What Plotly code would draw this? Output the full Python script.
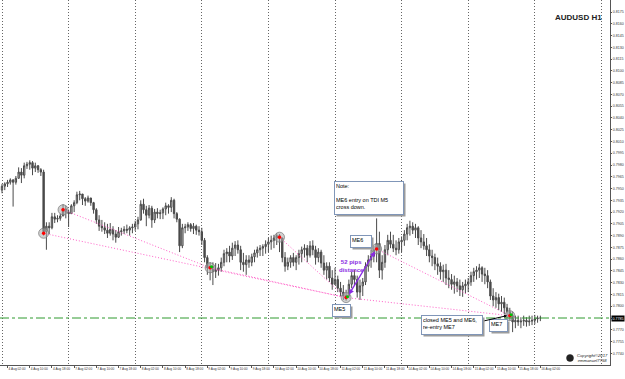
import plotly.graph_objects as go

# ---------------- data (AUDUSD H1, prices in pips of 0.0001) ----------------
PIP = 0.0001
first_open_pips = 7948
close_pips = [
    7953,7956,7958,7961,7958,7963,7971,7967,7979,7981,7983,7976,7979,7974,7971,7895,7902,7900,7914,7911,7912,7915,7924,7920,
    7918,7928,7932,7942,7943,7937,7934,7938,7932,7923,7910,7902,7900,7897,7893,7898,7892,7888,7895,7896,7898,7897,7900,7901,
    7905,7910,7930,7923,7916,7925,7910,7920,7918,7919,7924,7928,7926,7935,7918,7911,7877,7900,7901,7904,7899,7902,7897,7895,
    7884,7862,7849,7851,7844,7846,7849,7856,7867,7869,7864,7874,7878,7872,7856,7853,7859,7856,7863,7868,7872,7874,7876,7879,
    7882,7884,7887,7890,7887,7862,7851,7856,7862,7856,7862,7867,7872,7874,7865,7877,7872,7862,7869,7855,7846,7851,7836,7828,
    7834,7823,7818,7813,7813,7828,7839,7834,7818,7826,7831,7851,7859,7864,7872,7880,7846,7856,7872,7884,7879,7874,7872,7882,
    7884,7892,7900,7902,7897,7900,7887,7882,7877,7872,7864,7862,7854,7851,7844,7846,7836,7834,7828,7831,7826,7821,7826,7828,
    7831,7839,7844,7846,7849,7841,7839,7831,7813,7808,7811,7803,7805,7798,7793,7788,7780,7782,7780,7781,7782,7780,7781,7782,
    7784,7785,7785]
high_pips = [
    7956,7958,7961,7963,7962,7966,7977,7976,7983,7984,7986,7985,7983,7980,7976,7974,7907,7907,7919,7919,7916,7918,7930,7928,
    7923,7930,7935,7946,7947,7943,7939,7941,7938,7933,7925,7916,7910,7907,7905,7906,7902,7897,7901,7900,7902,7904,7902,7905,
    7909,7914,7935,7937,7928,7929,7928,7924,7925,7923,7926,7932,7930,7939,7937,7920,7912,7905,7905,7907,7906,7906,7904,7902,
    7900,7887,7865,7856,7856,7855,7854,7862,7872,7874,7877,7881,7883,7884,7877,7868,7865,7865,7867,7872,7876,7878,7879,7884,
    7887,7890,7891,7893,7892,7887,7869,7862,7865,7868,7865,7872,7876,7879,7878,7883,7884,7877,7874,7872,7865,7856,7856,7846,
    7849,7839,7831,7827,7821,7834,7844,7846,7839,7834,7836,7856,7865,7872,7877,7912,7895,7865,7878,7891,7895,7891,7884,7887,
    7889,7897,7905,7909,7907,7905,7902,7897,7892,7887,7879,7872,7867,7862,7856,7853,7854,7846,7841,7839,7836,7834,7831,7834,
    7836,7844,7849,7851,7854,7851,7849,7846,7834,7823,7818,7816,7813,7811,7803,7798,7793,7788,7788,7786,7788,7786,7788,7788,
    7789,7788,7788]
low_pips = [
    7944,7948,7952,7955,7927,7955,7963,7957,7963,7975,7974,7967,7971,7970,7966,7890,7872,7892,7898,7906,7907,7909,7915,7912,
    7901,7918,7920,7930,7935,7929,7928,7932,7928,7918,7905,7896,7895,7892,7887,7890,7884,7881,7887,7890,7892,7893,7890,7893,
    7896,7898,7909,7918,7902,7912,7900,7906,7912,7911,7911,7916,7918,7920,7912,7907,7869,7874,7893,7896,7895,7892,7891,7890,
    7878,7856,7840,7833,7827,7836,7839,7844,7851,7856,7856,7859,7864,7867,7846,7844,7840,7849,7851,7856,7862,7864,7864,7867,
    7869,7872,7874,7878,7869,7856,7844,7846,7849,7851,7846,7853,7856,7862,7856,7862,7865,7853,7856,7849,7840,7834,7831,7821,
    7827,7818,7813,7808,7807,7811,7823,7827,7811,7808,7813,7827,7844,7849,7856,7856,7836,7834,7849,7865,7874,7869,7865,7867,
    7869,7877,7884,7890,7892,7887,7878,7874,7872,7864,7856,7851,7846,7840,7834,7831,7827,7823,7821,7816,7818,7813,7812,7816,
    7818,7826,7831,7834,7836,7831,7828,7823,7808,7800,7798,7795,7793,7790,7785,7782,7767,7772,7775,7772,7775,7774,7775,7776,
    7777,7779,7781]

day_names = ['4 Aug', '7 Aug', '8 Aug', '9 Aug', '10 Aug', '11 Aug', '14 Aug', '15 Aug', '16 Aug']
label_hours = [2, 10, 18]
BARS_PER_DAY = 24

# trade marks: bar index, price
mark_bars = [15, 22, 75, 100, 124, 135, 183]
mark_prices = [0.7893, 0.7923, 0.7849, 0.7888, 0.7811, 0.7873, 0.7788]
mark_green = [False, False, True, False, True, False, True]

# pink dotted trend lines between marks (pairs of mark numbers)
trend_pairs = [(0, 4), (1, 2), (2, 4), (3, 4), (5, 6), (4, 6)]

current_price = 0.7785
y_top, y_bottom = 0.81903, 0.77251
label_top, label_step = 0.8175, 0.0015

# ---------------- build ----------------
closes = [c * PIP for c in close_pips]
highs = [h * PIP for h in high_pips]
lows = [l * PIP for l in low_pips]
opens = [first_open_pips * PIP] + closes[:-1]   # each hourly bar opens at the previous close
bars = list(range(len(closes)))

tickvals, ticktext = [], []
for d, name in enumerate(day_names):
    for h in label_hours:
        idx = d * BARS_PER_DAY + h
        if idx <= bars[-1]:
            tickvals.append(idx)
            ticktext.append(f"{name} {h:02d}:00")

# price ticks (the one under the live price tag is left blank, the tag shows it)
ytickvals, yticktext = [], []
v = label_top
while v > y_bottom - 1e-9:
    ytickvals.append(round(v, 4))
    yticktext.append('' if abs(v - current_price) < 1e-6 else f'{v:.4f}')
    v -= label_step

fig = go.Figure()

fig.add_trace(go.Candlestick(
    x=bars, open=opens, high=highs, low=lows, close=closes,
    increasing=dict(line=dict(color='#4a4a4a', width=1), fillcolor='#c8c8c8'),
    decreasing=dict(line=dict(color='#4a4a4a', width=1), fillcolor='#4a4a4a'),
    whiskerwidth=0, hoverinfo='skip', showlegend=False))

for a, b in trend_pairs:
    fig.add_trace(go.Scatter(
        x=[mark_bars[a], mark_bars[b]], y=[mark_prices[a], mark_prices[b]],
        mode='lines', line=dict(color='#ff5fc8', width=1, dash='1px,2px'),
        hoverinfo='skip', showlegend=False))

fig.add_trace(go.Scatter(
    x=mark_bars, y=mark_prices, mode='markers',
    marker=dict(size=10, color='rgba(170,170,170,0.55)', line=dict(color='rgba(120,120,120,0.7)', width=1)),
    hoverinfo='skip', showlegend=False))
fig.add_trace(go.Scatter(
    x=mark_bars, y=mark_prices, mode='markers',
    marker=dict(size=3.5, color='#ff0000'),
    hoverinfo='skip', showlegend=False))
gx = [b for b, g in zip(mark_bars, mark_green) if g]
gy = [p for p, g in zip(mark_prices, mark_green) if g]
fig.add_trace(go.Scatter(
    x=[v + 0.5 for v in gx], y=[p + 0.00012 for p in gy], mode='markers',
    marker=dict(size=3, color='#00c000'),
    hoverinfo='skip', showlegend=False))

FONT = 'Liberation Sans, Arial, sans-serif'
annotations = []


def box(x, y, text, w, h, size=5.5):
    annotations.append(dict(x=x, y=y, xref='x', yref='y', text=' ', showarrow=False,
                            width=w, height=h, bgcolor='#9c9c9c', borderpad=1,
                            xshift=2, yshift=-2, font=dict(size=size)))
    annotations.append(dict(x=x, y=y, xref='x', yref='y', text=text, showarrow=False,
                            width=w, height=h, bgcolor='white', bordercolor='#8096b8',
                            borderwidth=1, borderpad=1, align='left', valign='top',
                            font=dict(size=size, color='black', family=FONT)))


box(132.3, 0.7938, 'Note:<br><br>ME6 entry on TDI M5<br>cross down.', 66, 30)
box(129.5, 0.7883, 'ME6', 18, 9)
box(122.3, 0.7795, 'ME5', 15, 9)
box(162.2, 0.7776, 'closed ME5 and ME6,<br>re-entry ME7', 58, 16)
box(178.8, 0.7775, 'ME7', 15, 9)

# purple double arrow (distance ME5 -> ME6)
annotations.append(dict(x=134.4, y=0.7870, ax=124.7, ay=0.7813, xref='x', yref='y',
                        axref='x', ayref='y', text='', showarrow=True, arrowhead=2,
                        startarrowhead=2, arrowside='end+start', arrowsize=0.8,
                        startarrowsize=0.8, arrowwidth=1.3, arrowcolor='#8a2be2'))
annotations.append(dict(x=125.8, y=0.7851, xref='x', yref='y', showarrow=False,
                        text='<b>52 pips<br>distance</b>',
                        font=dict(size=6, color='#8a2be2', family=FONT)))
# black arrow from closing note to ME7
annotations.append(dict(x=182.0, y=0.7788, ax=173.3, ay=0.7781, xref='x', yref='y',
                        axref='x', ayref='y', text='', showarrow=True, arrowhead=2,
                        arrowsize=0.6, arrowwidth=1, arrowcolor='black'))

# title, price tag, copyright
annotations.append(dict(x=0.990, y=0.951, xref='paper', yref='paper', xanchor='right',
                        yanchor='middle', showarrow=False, text='<b>AUDUSD H1</b>',
                        font=dict(size=8, color='#222', family=FONT)))
annotations.append(dict(x=1, y=current_price, xref='paper', yref='y', xanchor='left',
                        xshift=1, showarrow=False, text=f'{current_price:.4f}', bgcolor='black',
                        borderpad=0.5, font=dict(size=3.6, color='white', family=FONT)))
annotations.append(dict(x=0.9426, y=0.019, xref='paper', yref='paper', xanchor='left',
                        yanchor='middle', showarrow=False, align='center',
                        text='<i>Copyright©2017</i><br><i>emmanuel7758</i>',
                        font=dict(size=4.2, color='#222', family=FONT)))

shapes = [
    dict(type='line', xref='paper', x0=0, x1=1, yref='y', y0=current_price, y1=current_price,
         line=dict(color='#2e9a2e', width=1, dash='dashdot')),
    dict(type='circle', xref='paper', yref='paper', x0=0.9287, x1=0.9402, y0=0.0096, y1=0.0288,
         fillcolor='#222', line=dict(color='#222', width=0.5)),
]

fig.update_layout(
    width=625, height=379,
    margin=dict(l=0, r=15, t=0, b=14),
    paper_bgcolor='white', plot_bgcolor='white',
    showlegend=False,
    annotations=annotations, shapes=shapes,
    xaxis=dict(range=[-0.72, 219.1], tickvals=tickvals, ticktext=ticktext, tickangle=0,
               ticklabelposition='outside right', ticks='outside', ticklen=2,
               tickcolor='#555', tickfont=dict(size=3.2, color='#333', family=FONT),
               showline=True, linecolor='#555', linewidth=1, showgrid=False,
               zeroline=False, rangeslider=dict(visible=False), fixedrange=True,
               automargin=False,
               minor=dict(tick0=0, dtick=BARS_PER_DAY, showgrid=True, gridcolor='#666',
                          griddash='1px,2px', gridwidth=1, ticks='')),
    yaxis=dict(side='right', range=[y_bottom, y_top], tickvals=ytickvals, ticktext=yticktext,
               ticks='outside', ticklen=1, tickcolor='#555',
               tickfont=dict(size=3.6, color='#333', family=FONT),
               showline=True, linecolor='#555', linewidth=1, showgrid=False,
               zeroline=False, fixedrange=True, automargin=False),
)

fig.write_html('out.html')
